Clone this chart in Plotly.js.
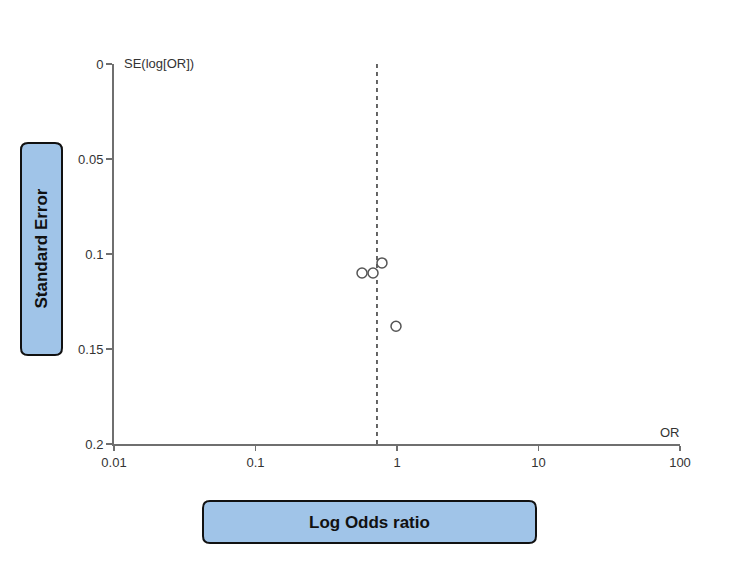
<!DOCTYPE html>
<html>
<head>
<meta charset="utf-8">
<script src="https://cdn.plot.ly/plotly-3.0.1.min.js"></script>
<style>
  html, body { margin: 0; padding: 0; background: #fff; }
  #chart { width: 750px; height: 563px; }
</style>
</head>
<body>
<div id="chart"></div>
<script>
// Study estimates: odds ratio and standard error of log(OR)
const studyOR = [0.566, 0.677, 0.783, 0.984];
const studySE = [0.110, 0.110, 0.1047, 0.138];

// Pooled odds ratio (vertical reference line)
const pooledOR = 0.722;

// Axis ticks
const xTickVals = [0.01, 0.1, 1, 10, 100];
const xTickText = ["0.01", "0.1", "1", "10", "100"];
const yTickVals = [0, 0.05, 0.1, 0.15, 0.2];
const yTickText = ["0", "0.05", "0.1", "0.15", "0.2"];

const W = 750, H = 563;
const M = { l: 114, r: 70, t: 64, b: 119 };
const PW = W - M.l - M.r, PH = H - M.t - M.b;

// pixel -> paper helpers
const px = v => (v - M.l) / PW;
const py = v => (H - M.b - v) / PH;

// rounded rectangle path in paper coordinates from pixel bounds
function roundRect(x0, y0, x1, y1, r) {
  const P = (x, y) => px(x).toFixed(5) + "," + py(y).toFixed(5);
  return "M" + P(x0 + r, y0) +
    " L" + P(x1 - r, y0) + " Q" + P(x1, y0) + " " + P(x1, y0 + r) +
    " L" + P(x1, y1 - r) + " Q" + P(x1, y1) + " " + P(x1 - r, y1) +
    " L" + P(x0 + r, y1) + " Q" + P(x0, y1) + " " + P(x0, y1 - r) +
    " L" + P(x0, y0 + r) + " Q" + P(x0, y0) + " " + P(x0 + r, y0) + " Z";
}

const axisGrey = "#6f6f6f";
const textGrey = "#333333";
const font = "Liberation Sans, Arial, sans-serif";

const traces = [
  {
    x: [pooledOR, pooledOR],
    y: [yTickVals[0], yTickVals[yTickVals.length - 1]],
    mode: "lines",
    line: { color: "#333", width: 1.5, dash: "4px,4px" },
    hoverinfo: "skip",
    showlegend: false
  },
  {
    x: studyOR,
    y: studySE,
    mode: "markers",
    marker: { symbol: "circle", size: 10, color: "#fff", line: { color: "#555", width: 1.5 } },
    showlegend: false
  }
];

const layout = {
  width: W,
  height: H,
  margin: M,
  paper_bgcolor: "#fff",
  plot_bgcolor: "#fff",
  font: { family: font, size: 13, color: textGrey },
  showlegend: false,
  xaxis: {
    type: "log",
    range: [-2, 2],
    tickvals: xTickVals,
    ticktext: xTickText,
    showgrid: false,
    zeroline: false,
    showline: true,
    linecolor: axisGrey,
    linewidth: 2,
    ticks: "outside",
    ticklen: 5,
    tickwidth: 1.5,
    tickcolor: axisGrey,
    tickfont: { size: 13, color: textGrey },
    fixedrange: true
  },
  yaxis: {
    range: [0.2, 0],
    tickvals: yTickVals,
    ticktext: yTickText,
    showgrid: false,
    zeroline: false,
    showline: true,
    linecolor: axisGrey,
    linewidth: 2,
    ticks: "outside",
    ticklen: 6,
    tickwidth: 1.5,
    tickcolor: axisGrey,
    tickfont: { size: 13, color: textGrey },
    fixedrange: true
  },
  shapes: [
    {
      type: "path", xref: "paper", yref: "paper",
      path: roundRect(21, 143, 62, 355, 7),
      fillcolor: "#a0c4e8",
      line: { color: "#111", width: 2 },
      layer: "above"
    },
    {
      type: "path", xref: "paper", yref: "paper",
      path: roundRect(203, 501, 536, 543, 7),
      fillcolor: "#a0c4e8",
      line: { color: "#111", width: 2 },
      layer: "above"
    }
  ],
  annotations: [
    {
      text: "SE(log[OR])", xref: "paper", yref: "paper",
      x: px(122), y: py(63), xanchor: "left", yanchor: "middle",
      showarrow: false, font: { size: 13, color: textGrey }
    },
    {
      text: "OR", xref: "paper", yref: "paper",
      x: px(670), y: py(432), xanchor: "center", yanchor: "middle",
      showarrow: false, font: { size: 13, color: textGrey }
    },
    {
      text: "<b>Standard Error</b>", xref: "paper", yref: "paper",
      x: px(41.5), y: py(249), xanchor: "center", yanchor: "middle",
      textangle: -90, showarrow: false, font: { size: 17, color: "#111" }
    },
    {
      text: "<b>Log Odds ratio</b>", xref: "paper", yref: "paper",
      x: px(369.5), y: py(522), xanchor: "center", yanchor: "middle",
      showarrow: false, font: { size: 17, color: "#111" }
    }
  ]
};

Plotly.newPlot("chart", traces, layout, { displayModeBar: false, staticPlot: true });
</script>
</body>
</html>
